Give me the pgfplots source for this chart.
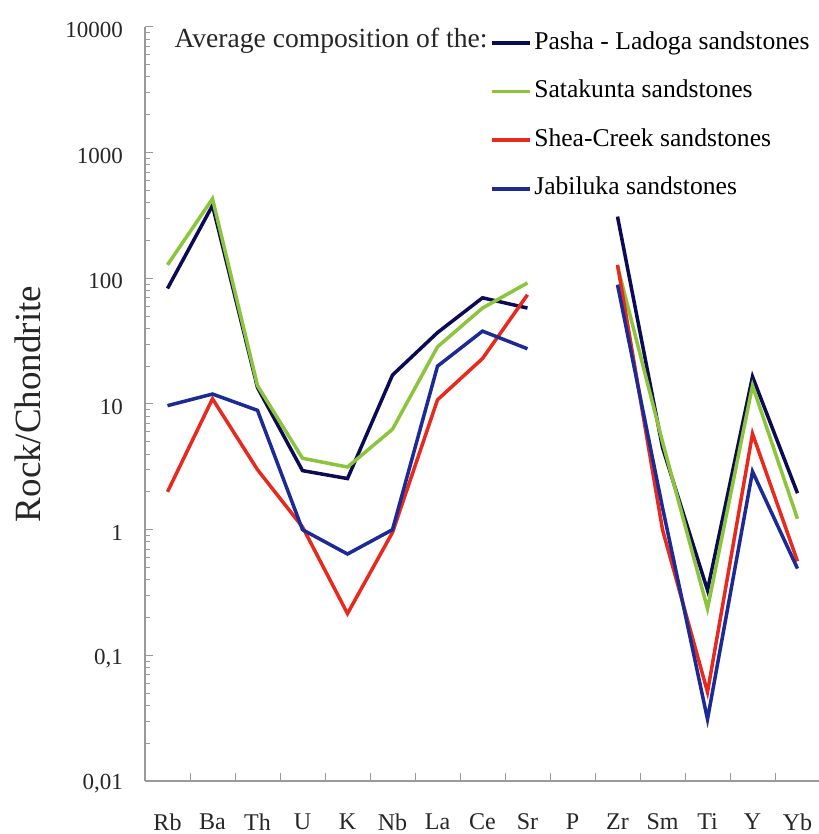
\documentclass[border=0pt]{standalone}
\usepackage{fontspec}
\setmainfont{Liberation Serif}
\usepackage{pgfplots}
\pgfplotsset{compat=1.18}
\definecolor{cNavy}{HTML}{0B0B55}
\definecolor{cGreen}{HTML}{8CC43C}
\definecolor{cRed}{HTML}{E82A1E}
\definecolor{cBlue}{HTML}{1C2A96}
\definecolor{axgray}{HTML}{9A9A9A}
\begin{document}
\begin{tikzpicture}[x=1pt,y=1pt]
\useasboundingbox (-72.5,-26.5) rectangle (336.5,390.5);
\begin{axis}[
  at={(0,0)}, anchor=south west, scale only axis,
  width=337.5pt, height=377pt,
  ymode=log, ymin=0.01, ymax=10000,
  xmin=-0.5, xmax=14.5,
  axis x line*=bottom, axis y line*=left,
  axis line style={axgray, line width=0.6pt},
  xtick={-0.5,0.5,1.5,2.5,3.5,4.5,5.5,6.5,7.5,8.5,9.5,10.5,11.5,12.5,13.5,14.5},
  xticklabels={Rb,Ba,Th,U,K,Nb,La,Ce,Sr,P,Zr,Sm,Ti,Y,Yb,{}},
  xticklabel style={xshift=11.25pt, yshift=-13pt, font=\fontsize{12}{14}\selectfont, text=black!85},
  ytick={0.01,0.1,1,10,100,1000,10000},
  yticklabels={{0,01},{0,1},1,10,100,1000,10000},
  yticklabel style={xshift=-7.5pt, yshift=-1.5pt, font=\fontsize{11.5}{13}\selectfont, text=black!85},
  tick align=inside,
  major tick length=4pt, minor tick length=2.5pt,
  tick style={axgray, line width=0.5pt},
  unbounded coords=jump,
  legend style={at={(0.511,0.998)}, anchor=north west, draw=none, fill=none,
    inner sep=0pt, row sep=10.2pt, font=\fontsize{12.8}{14}\selectfont,
    nodes={inner sep=1.25pt, text height=8.8pt, text depth=2.8pt}},
  legend cell align=left,
  legend image code/.code={\draw[#1, line width=1.75pt] (0pt,0pt) -- (19pt,0pt);},
  every axis plot/.append style={line width=1.75pt, line join=miter, mark=none},
]
\addplot[cNavy] coordinates {(0,83) (1,380) (2,13.5) (3,2.95) (4,2.55) (5,17) (6,37) (7,70) (8,58) (9,nan) (10,310) (11,4.5) (12,0.33) (13,16.5) (14,1.95)};
\addlegendentry{Pasha - Ladoga sandstones}
\addplot[cGreen] coordinates {(0,128) (1,430) (2,14) (3,3.7) (4,3.15) (5,6.3) (6,28.5) (7,58) (8,92) (9,nan) (10,125) (11,5) (12,0.235) (13,14) (14,1.22)};
\addlegendentry{Satakunta sandstones}
\addplot[cRed] coordinates {(0,2.0) (1,11) (2,3.0) (3,1.05) (4,0.215) (5,0.95) (6,10.8) (7,23) (8,74) (9,nan) (10,128) (11,1.0) (12,0.051) (13,5.8) (14,0.56)};
\addlegendentry{Shea-Creek sandstones}
\addplot[cBlue] coordinates {(0,9.7) (1,12) (2,8.9) (3,1.0) (4,0.64) (5,1.0) (6,20) (7,38) (8,27.5) (9,nan) (10,89) (11,1.5) (12,0.031) (13,2.9) (14,0.49)};
\addlegendentry{Jabiluka sandstones}
\node[anchor=east, inner sep=0pt, font=\fontsize{13.8}{15}\selectfont, text=black!85] at (rel axis cs:0.508,0.982) {Average composition of the:};
\end{axis}
\node[rotate=90, font=\fontsize{18.5}{20}\selectfont, text=black!85] at (-58.5,188.5) {Rock/Chondrite};
\end{tikzpicture}
\end{document}
